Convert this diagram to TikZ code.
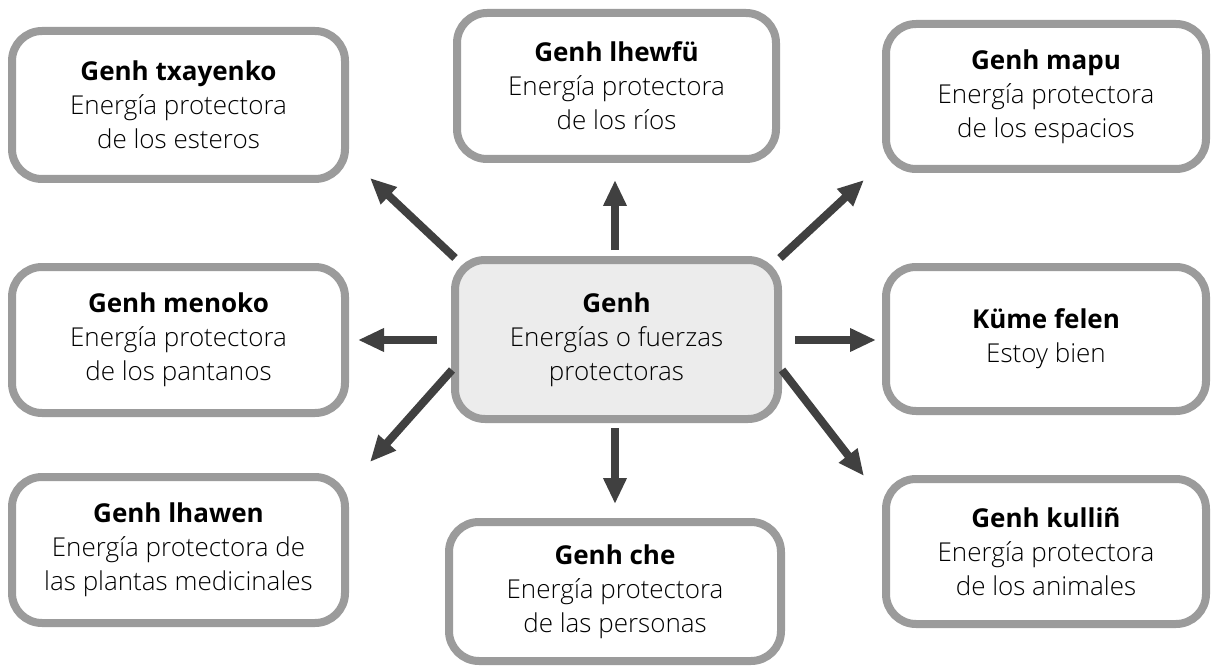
\documentclass[tikz,border=0pt]{standalone}
\usepackage{fontspec}
\setmainfont{Open Sans Light}[BoldFont={Open Sans Bold}]
\usetikzlibrary{arrows.meta}
\begin{document}
\begin{tikzpicture}[x=1pt,y=-1pt,
  box/.style={draw=boxgray,line width=8pt,rounded corners=30pt,fill=white,
    align=center,inner sep=0pt,font=\fontsize{26}{34}\selectfont},
  arr/.style={draw=arrgray,line width=8pt,-{Triangle[length=26pt,width=22pt]}}]
\definecolor{boxgray}{HTML}{9B9B9B}
\definecolor{arrgray}{HTML}{404040}
\definecolor{cfill}{HTML}{ECECEC}
\useasboundingbox[fill=white] (0,0) rectangle (1211,666);
% boxes
\node[box,minimum width=333pt,minimum height=148pt] (tl) at (178.5,105)
  {\textbf{Genh txayenko}\\Energía protectora\\de los esteros};
\node[box,minimum width=319pt,minimum height=146pt] (tm) at (616.5,86)
  {\textbf{Genh lhewfü}\\Energía protectora\\de los ríos};
\node[box,minimum width=320pt,minimum height=145pt] (tr) at (1046,96.5)
  {\textbf{Genh mapu}\\Energía protectora\\de los espacios};
\node[box,minimum width=333pt,minimum height=146pt] (ml) at (178.5,340)
  {\textbf{Genh menoko}\\Energía protectora\\de los pantanos};
\node[box,fill=cfill,minimum width=323pt,minimum height=159pt] (c) at (616.5,339.5)
  {\textbf{Genh}\\Energías o fuerzas\\protectoras};
\node[box,minimum width=320pt,minimum height=144pt] (mr) at (1046,339)
  {\textbf{Küme felen}\\Estoy bien};
\node[box,minimum width=333pt,minimum height=146pt] (bl) at (178.5,550)
  {\textbf{Genh lhawen}\\Energía protectora de\\las plantas medicinales};
\node[box,minimum width=332pt,minimum height=139pt] (bm) at (615,591.5)
  {\textbf{Genh che}\\Energía protectora\\de las personas};
\node[box,minimum width=320pt,minimum height=145pt] (br) at (1046,551.5)
  {\textbf{Genh kulliñ}\\Energía protectora\\de los animales};
% arrow end points
\coordinate (s1) at (455,258); \coordinate (e1) at (370,178);
\coordinate (s2) at (615,250); \coordinate (e2) at (615,180);
\coordinate (s3) at (780,258); \coordinate (e3) at (864,180);
\coordinate (s4) at (437,340); \coordinate (e4) at (358,340);
\coordinate (s5) at (795,340); \coordinate (e5) at (876,340);
\coordinate (s6) at (452,370); \coordinate (e6) at (370,462);
\coordinate (s7) at (615,428); \coordinate (e7) at (615,504);
\coordinate (s8) at (782,370); \coordinate (e8) at (864,476);
\foreach \i in {1,...,8} {\draw[arr] (s\i) -- (e\i);}
\end{tikzpicture}
\end{document}
